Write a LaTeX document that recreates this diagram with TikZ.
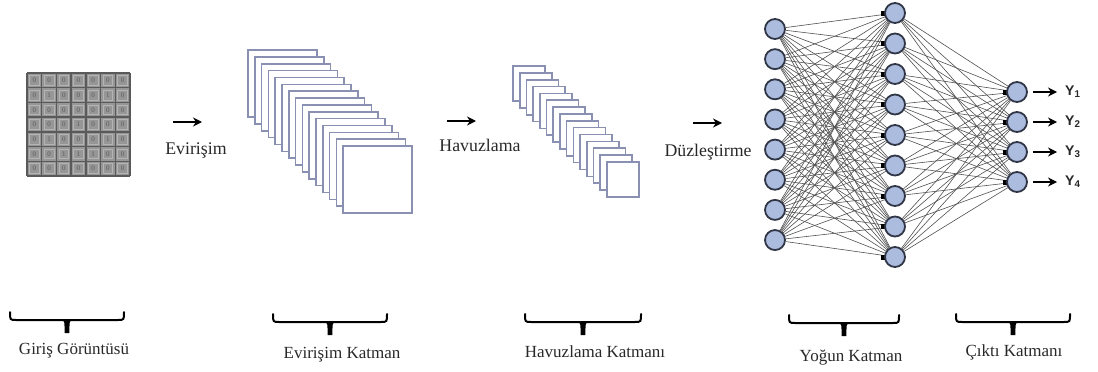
\documentclass[tikz,border=0pt]{standalone}
\usepackage{fontspec}
\setmainfont{Liberation Serif}
\newfontfamily\ysans{Liberation Sans}
\usetikzlibrary{arrows.meta,backgrounds,calc}
\definecolor{txt}{RGB}{40,40,40}
\definecolor{cellfill}{RGB}{150,150,150}
\definecolor{cellline}{RGB}{90,90,90}
\definecolor{cellin}{RGB}{180,180,180}
\definecolor{fmap}{RGB}{138,144,178}
\definecolor{nfill}{RGB}{172,188,222}
\definecolor{nline}{RGB}{48,54,70}
\definecolor{edge}{RGB}{80,80,80}
\tikzset{
  lbl/.style={font=\rmfamily\fontsize{17}{19}\selectfont, text=txt, inner sep=1pt},
  toplbl/.style={font=\rmfamily\fontsize{17.8}{19}\selectfont, text=txt, inner sep=1pt},
  ylbl/.style={font=\ysans\bfseries\fontsize{14}{15}\selectfont, text=txt, inner sep=1pt, anchor=west},
  fmapbox/.style={draw=fmap, fill=white, line width=1.6pt},
  neuron/.style={circle, draw=nline, fill=nfill, line width=1.8pt, minimum size=20pt, inner sep=0pt},
  conn/.style={draw=edge, line width=0.6pt},
  flow/.style={-{Stealth[length=9pt,width=9pt]}, line width=2pt, black},
  bracestyle/.style={line width=2pt, black, line cap=round},
}
\newcommand{\mybrace}[4]{% name, x1, x2, y (top of horns)
  \coordinate (#1s) at (#2,#4);
  \coordinate (#1e) at (#3,#4);
  \coordinate (#1m) at ($(#1s)!0.5!(#1e)$);
  \draw[bracestyle] (#1s) .. controls ($(#1s)+(0,8)$) .. ($(#1s)+(6,8)$) -- ($(#1e)+(-6,8)$) .. controls ($(#1e)+(0,8)$) .. (#1e);
  \fill[black] ($(#1m)+(-5,7)$) -- ($(#1m)+(5,7)$) .. controls ($(#1m)+(2.5,9)$) .. ($(#1m)+(2.4,21)$) -- ($(#1m)+(-2.4,21)$) .. controls ($(#1m)+(-2.5,9)$) .. cycle;
}
\begin{document}
\begin{tikzpicture}[x=1pt,y=-1pt]
\useasboundingbox (0,0) rectangle (1098,372);
% ---- input image grid
\def\cs{14.7}
\fill[cellfill] (27,73) rectangle ++(102.9,102.9);
\foreach \r/\row in {0/{0,0,0,0,0,0,0},1/{0,1,0,0,0,1,0},2/{0,0,0,0,0,0,0},3/{0,0,0,1,0,0,0},4/{0,1,0,0,0,1,0},5/{0,0,1,1,1,0,0},6/{0,0,0,0,0,0,0}}{
  \foreach \v [count=\c from 0] in \row {
    \draw[cellin, line width=0.7pt] ({27+\c*\cs+2.5},{73+\r*\cs+2.5}) rectangle ++(9.7,9.7);
    \node[font=\fontsize{7}{7}\selectfont, text=cellline, inner sep=0pt] at ({27+\c*\cs+\cs/2},{73+\r*\cs+\cs/2}) {\v};
  }
}
\foreach \k in {0,...,7}{
  \draw[cellline, line width=1.4pt] ({27+\k*\cs},73) -- ++(0,102.9);
  \draw[cellline, line width=1.4pt] (27,{73+\k*\cs}) -- ++(102.9,0);
}
% ---- convolution feature maps
\foreach \i in {0,...,14}
  \draw[fmapbox] ({248+6.8*\i},{50+6.86*\i}) rectangle ++(69,67);
% ---- pooling feature maps
\foreach \i in {0,...,14}
  \draw[fmapbox] ({513+6.7*\i},{66+6.85*\i}) rectangle ++(32,35);
% ---- flow arrows and labels
\coordinate (e1) at (173,122); \coordinate (e2) at (202,122);
\coordinate (h1) at (447,121); \coordinate (h2) at (476,121);
\coordinate (d1) at (693,123); \coordinate (d2) at (722,123);
\draw[flow] (e1) -- (e2);
\draw[flow] (h1) -- (h2);
\draw[flow] (d1) -- (d2);
\node[toplbl] (evl) at (196,151) {Evirişim};
\node[toplbl] (hvl) at (480,145) {Havuzlama};
\node[toplbl] (dzl) at (708,152) {Düzleştirme};
% ---- neural network
\foreach \i in {1,...,8}
  \node[neuron] (a\i) at (775,{29+30.15*(\i-1)}) {};
\foreach \j in {1,...,9}
  \node[neuron] (b\j) at (895,{13+30.5*(\j-1)}) {};
\foreach \k in {1,...,4}
  \node[neuron] (c\k) at (1017,{92+30*(\k-1)}) {};
\begin{pgfonlayer}{background}
\foreach \i in {1,...,8}
  \foreach \j in {1,...,9}
    \draw[conn] (a\i) -- (b\j);
\foreach \j in {1,...,9}
  \foreach \k in {1,...,4}
    \draw[conn] (b\j) -- (c\k);
\foreach \j in {1,...,9}
  \fill[black] ($(b\j.west)+(-3,-2.5)$) rectangle ($(b\j.west)+(2,2.5)$);
\foreach \k in {1,...,4}
  \fill[black] ($(c\k.west)+(-3,-2.5)$) rectangle ($(c\k.west)+(2,2.5)$);
\end{pgfonlayer}
\foreach \k in {1,...,4}{
  \node[ylbl] (y\k) at (1064,{92+30*(\k-1)}) {Y\textsubscript{\k}};
  \draw[-{Stealth[length=9pt,width=9pt]}, line width=1.8pt, black, shorten <=5pt, shorten >=7pt] (c\k) -- (y\k);
}
% ---- braces
\mybrace{g}{10}{124}{312}
\mybrace{k}{273}{387}{314}
\mybrace{p}{525}{641}{314}
\mybrace{n}{789}{899}{315}
\mybrace{o}{956}{1070}{314}
\node[lbl] (gl) at (74,351) {Giriş Görüntüsü};
\node[lbl] (kl) at (342,355) {Evirişim Katman};
\node[lbl] (pl) at (595,352) {Havuzlama Katmanı};
\node[lbl] (nl) at (851,358) {Yoğun Katman};
\node[lbl] (ol) at (1014,352) {Çıktı Katmanı};
\end{tikzpicture}
\end{document}
